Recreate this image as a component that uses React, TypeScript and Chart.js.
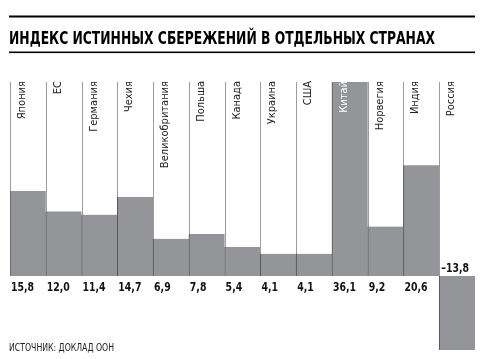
import React, { useEffect, useRef } from "react";
import { Chart, registerables } from "chart.js";

Chart.register(...registerables);

const TITLE = "ИНДЕКС ИСТИННЫХ СБЕРЕЖЕНИЙ В ОТДЕЛЬНЫХ СТРАНАХ";
const SOURCE = "ИСТОЧНИК: ДОКЛАД ООН";
const countries = [
  "Япония", "ЕС", "Германия", "Чехия", "Великобритания", "Польша", "Канада",
  "Украина", "США", "Китай", "Норвегия", "Индия", "Россия",
];
const values = [15.8, 12.0, 11.4, 14.7, 6.9, 7.8, 5.4, 4.1, 4.1, 36.1, 9.2, 20.6, -13.8];
const whiteLabelIndex = [9];

const NARROW = '"Liberation Sans Narrow", "DejaVu Sans Condensed", "Roboto", sans-serif';

const fmt = (v: number) => (v < 0 ? "–" : "") + Math.abs(v).toFixed(1).replace(".", ",");

const decorPlugin = {
  id: "decor",
  beforeDatasetsDraw(chart: any) {
    const ctx = chart.ctx;
    const xs = chart.scales.x;
    const ys = chart.scales.y;
    const area = chart.chartArea;
    const half = (area.right - area.left) / countries.length / 2;
    const y0 = ys.getPixelForValue(0);
    ctx.save();
    ctx.strokeStyle = "#9c9c9c";
    ctx.lineWidth = 1;
    countries.forEach((_, i) => {
      const x = Math.round(xs.getPixelForValue(i) - half) + 0.5;
      ctx.beginPath();
      ctx.moveTo(x, area.top);
      ctx.lineTo(x, y0);
      ctx.stroke();
    });
    ctx.restore();
  },
  afterDatasetsDraw(chart: any) {
    const ctx = chart.ctx;
    const xs = chart.scales.x;
    const ys = chart.scales.y;
    const area = chart.chartArea;
    const half = (area.right - area.left) / countries.length / 2;
    const y0 = ys.getPixelForValue(0);
    ctx.save();
    // title rules
    ctx.fillStyle = "#000";
    ctx.fillRect(9, 15.5, 466, 2);
    ctx.fillRect(9, 51.5, 466, 1.6);
    // title
    ctx.font = `bold 17px ${NARROW}`;
    ctx.textBaseline = "alphabetic";
    ctx.textAlign = "left";
    const tw = ctx.measureText(TITLE).width;
    ctx.save();
    ctx.translate(9, 43.5);
    ctx.scale(426 / tw, 1);
    ctx.fillText(TITLE, 0, 0);
    ctx.restore();

    // category labels
    ctx.font = `11px ${NARROW}`;
    countries.forEach((c, i) => {
      const left = xs.getPixelForValue(i) - half;
      ctx.save();
      ctx.translate(left + 15, area.top - 1);
      ctx.rotate(-Math.PI / 2);
      ctx.textAlign = "right";
      ctx.textBaseline = "alphabetic";
      ctx.fillStyle = whiteLabelIndex.includes(i) ? "#ffffff" : "#222222";
      ctx.fillText(c, 0, 0);
      ctx.restore();
    });

    // value labels
    ctx.font = `bold 13px ${NARROW}`;
    ctx.fillStyle = "#111";
    ctx.textAlign = "left";
    ctx.textBaseline = "alphabetic";
    values.forEach((v, i) => {
      const left = xs.getPixelForValue(i) - half;
      ctx.save();
      if (v >= 0) ctx.translate(left + 1, y0 + 15);
      else ctx.translate(left + 2, y0 - 4);
      ctx.scale(0.8, 1);
      ctx.fillText(fmt(v), 0, 0);
      ctx.restore();
    });

    // source
    ctx.font = `10.5px ${NARROW}`;
    ctx.fillStyle = "#222";
    const sw = ctx.measureText(SOURCE).width;
    ctx.save();
    ctx.translate(9, 351);
    ctx.scale(105 / sw, 1);
    ctx.fillText(SOURCE, 0, 0);
    ctx.restore();
    ctx.restore();
  },
};

export default function App() {
  const ref = useRef<HTMLCanvasElement | null>(null);
  useEffect(() => {
    document.body.style.margin = "0";
    const chart = new Chart(ref.current as HTMLCanvasElement, {
      type: "bar",
      data: {
        labels: countries,
        datasets: [
          {
            data: values,
            backgroundColor: "#939598",
            borderColor: "#555555",
            borderWidth: { left: 1, top: 0, right: 0, bottom: 0 },
            borderSkipped: false,
            barPercentage: 1,
            categoryPercentage: 1,
          },
        ],
      },
      options: {
        responsive: false,
        animation: false,
        layout: { padding: { left: 10, right: 25, top: 82, bottom: 9 } },
        plugins: { legend: { display: false }, tooltip: { enabled: false }, title: { display: false } },
        scales: {
          x: { display: false, offset: true, grid: { display: false } },
          y: { display: false, min: -13.8, max: 36.1, grid: { display: false } },
        },
      },
      plugins: [decorPlugin],
    });
    return () => chart.destroy();
  }, []);
  return (
    <div style={{ width: 500, height: 359, background: "#fff" }}>
      <canvas ref={ref} width={500} height={359} style={{ display: "block" }} />
    </div>
  );
}
